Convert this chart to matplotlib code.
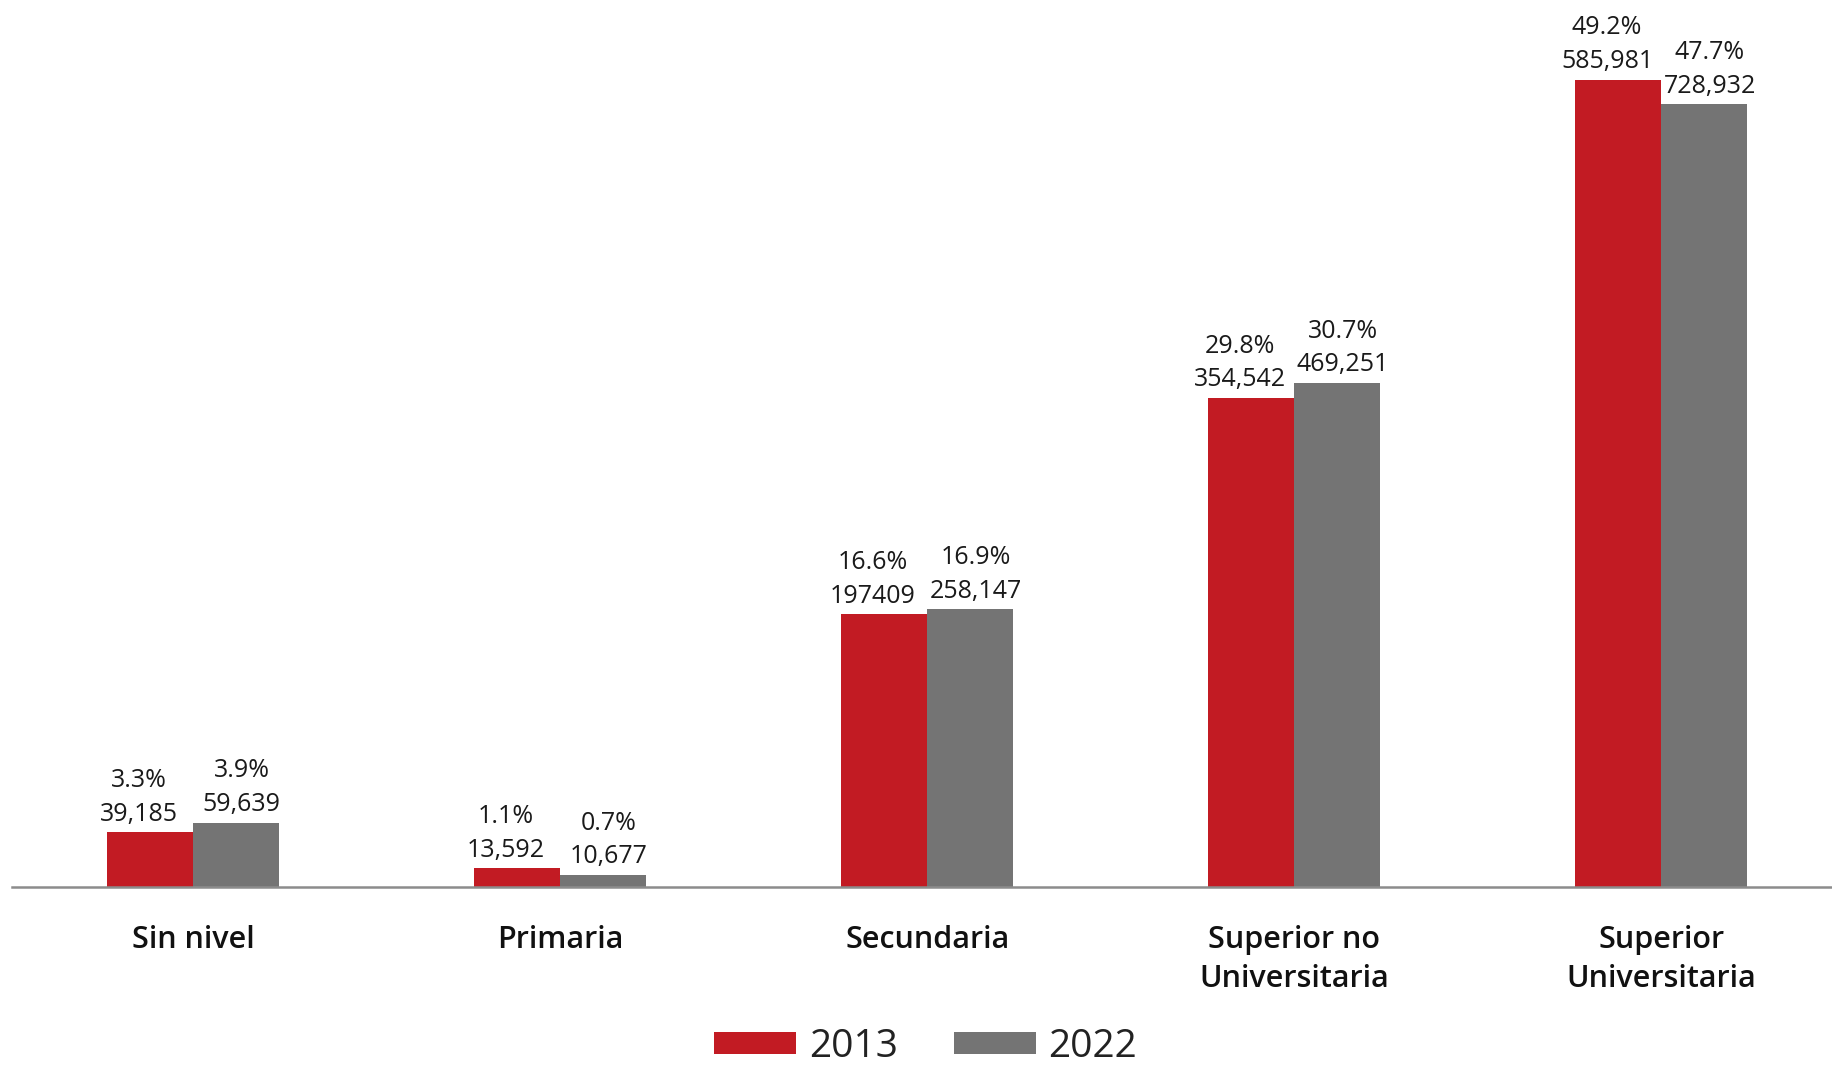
import numpy as np
import matplotlib.pyplot as plt

plt.rcParams['font.family'] = ['Open Sans', 'DejaVu Sans']

categorias = ['Sin nivel', 'Primaria', 'Secundaria', 'Superior no\nUniversitaria', 'Superior\nUniversitaria']
anios = ['2013', '2022']
pct_2013 = [3.3, 1.1, 16.6, 29.8, 49.2]
pct_2022 = [3.9, 0.7, 16.9, 30.7, 47.7]
num_2013 = ['39,185', '13,592', '197409', '354,542', '585,981']
num_2022 = ['59,639', '10,677', '258,147', '469,251', '728,932']

rojo = '#c21b23'
gris = '#747474'

fig = plt.figure(figsize=(18.33, 10.69), dpi=100)
ax = fig.add_axes([0.0064, 0.1707, 0.9936, 0.8293])

x = np.arange(len(categorias))
w = 0.234
b1 = ax.bar(x - w / 2, pct_2013, w, color=rojo, label=anios[0])
b2 = ax.bar(x + w / 2, pct_2022, w, color=gris, label=anios[1])

# etiquetas encima de cada barra
for rect, p, n in zip(b1, pct_2013, num_2013):
    ax.annotate(f'{p:.1f}%\n{n}', (rect.get_x() + rect.get_width() / 2, rect.get_height()),
                xytext=(-8, 4), textcoords='offset points', ha='center', va='bottom',
                fontsize=18, color='#1a1a1a', linespacing=1.45)
for rect, p, n in zip(b2, pct_2022, num_2022):
    ax.annotate(f'{p:.1f}%\n{n}', (rect.get_x() + rect.get_width() / 2, rect.get_height()),
                xytext=(4, 4), textcoords='offset points', ha='center', va='bottom',
                fontsize=18, color='#1a1a1a', linespacing=1.45)

ax.set_xlim(-0.494, 4.468)
ax.set_ylim(0, 54.05)
ax.set_xticks(x)
ax.set_xticklabels(categorias, fontsize=22, fontweight='semibold', color='#111111', linespacing=1.38)
ax.tick_params(axis='x', length=0, pad=28)
ax.set_yticks([])
for s in ['top', 'right', 'left']:
    ax.spines[s].set_visible(False)
ax.spines['bottom'].set_color('#8c8c8c')
ax.spines['bottom'].set_linewidth(1.8)

fig.legend(handles=[b1, b2], labels=anios, loc='center', bbox_to_anchor=(0.505, 0.021),
           ncol=2, frameon=False, fontsize=28, handlelength=2.1, handleheight=0.5,
           handletextpad=0.33, columnspacing=1.45, labelcolor='#222222')

plt.savefig('out.png', dpi=100)
